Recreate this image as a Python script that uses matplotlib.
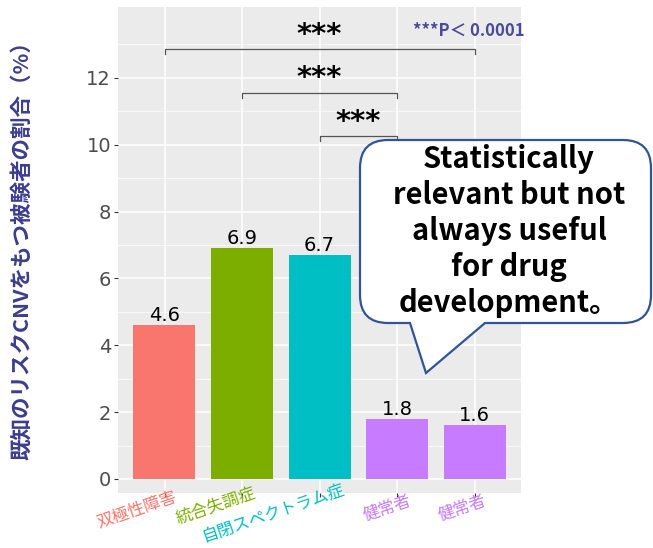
import numpy as np
import matplotlib
matplotlib.use('Agg')
import matplotlib.pyplot as plt
import matplotlib.transforms as mtransforms
from matplotlib.path import Path
from matplotlib.patches import PathPatch

# データ
groups = ['双極性障害', '統合失調症', '自閉スペクトラム症', '健常者', '健常者']
values = [4.6, 6.9, 6.7, 1.8, 1.6]
colors = ['#F8766D', '#7CAE00', '#00BFC4', '#C77CFF', '#C77CFF']
yticks = [0, 2, 4, 6, 8, 10, 12]
pairs = [(0, 4), (1, 3), (2, 3)]
pair_heights = [12.85, 11.55, 10.25]
pair_marks = ['***', '***', '***']
p_note = '***P＜ 0.0001'
ylabel = '既知のリスクCNVをもつ被験者の割合（%）'
callout = 'Statistically\nrelevant but not\nalways useful\nfor drug\ndevelopment。'

jp = ['Noto Sans CJK JP', 'DejaVu Sans']
W, H = 653, 548

fig = plt.figure(figsize=(W / 100, H / 100), dpi=100)
ax = fig.add_axes([118 / W, 55 / H, 403 / W, 486 / H])

x = np.arange(1, len(values) + 1)
ax.bar(x, values, width=0.8, color=colors, zorder=2)

ax.set_xlim(0.4, 5.6)
ax.set_ylim(-0.42, 14.12)
ax.set_facecolor('#EBEBEB')
for s in ax.spines.values():
    s.set_visible(False)

# グリッド
ax.set_yticks(yticks)
ax.set_yticks(np.arange(1, 14, 2), minor=True)
ax.set_xticks(x)
ax.set_xticklabels([''] * len(x))
ax.grid(which='major', color='white', lw=1.1, zorder=0)
ax.grid(which='minor', axis='y', color='white', lw=0.5, zorder=0)
ax.set_axisbelow(True)
ax.tick_params(axis='y', which='major', length=3, width=0.8, color='#333333',
               labelsize=14, labelcolor='#4D4D4D', pad=2)
ax.tick_params(axis='x', which='major', length=3, width=0.8, color='#333333')
ax.tick_params(which='minor', length=0)

# x軸ラベル(回転)
offsets = [(13, -8), (15, -3), (26, 0), (15, -12), (13, -12)]
base = mtransforms.blended_transform_factory(ax.transData, ax.transAxes)
for xi, g, c, (dx, dy) in zip(x, groups, colors, offsets):
    tr = base + mtransforms.ScaledTranslation(dx / 100, dy / 100, fig.dpi_scale_trans)
    ax.text(xi, 0, g, transform=tr, rotation=19, rotation_mode='anchor',
            ha='right', va='baseline', fontsize=12, color=c, family=jp, clip_on=False)

# 値ラベル
for xi, v in zip(x, values):
    ax.text(xi, v + 0.12, f'{v}', ha='center', va='baseline', fontsize=14, color='black')

# 有意差ブラケット
for (i, j), h, m in zip(pairs, pair_heights, pair_marks):
    x1, x2 = x[i], x[j]
    ax.plot([x1, x1, x2, x2], [h - 0.15, h, h, h - 0.15], color='#555555', lw=0.9,
            zorder=3, clip_on=False)
    ax.text((x1 + x2) / 2, h + 0.2, m, ha='center', va='baseline', fontsize=21,
            fontweight='bold', color='black')

fig.text(22 / W, 1 - 245 / H, ylabel, rotation=90, ha='center', va='center',
         fontsize=15.5, fontweight='bold', color='#3D3D8F', family=jp)
fig.text(469 / W, 1 - 31 / H, p_note, ha='center', va='center', fontsize=12,
         fontweight='bold', color='#4B4B9B', family=jp)

# 吹き出し
ov = fig.add_axes([0, 0, 1, 1])
ov.set_xlim(0, W)
ov.set_ylim(H, 0)
ov.axis('off')
L, R, T, B, r = 360, 651, 140, 323, 28
xl, xr, tip = 410, 485, (426, 373)
verts = [(L + r, T), (R - r, T), (R, T), (R, T + r), (R, B - r), (R, B), (R - r, B),
         (xr, B), tip, (xl, B), (L + r, B), (L, B), (L, B - r), (L, T + r), (L, T),
         (L + r, T), (L + r, T)]
codes = [Path.MOVETO, Path.LINETO, Path.CURVE3, Path.CURVE3, Path.LINETO, Path.CURVE3,
         Path.CURVE3, Path.LINETO, Path.LINETO, Path.LINETO, Path.LINETO, Path.CURVE3,
         Path.CURVE3, Path.LINETO, Path.CURVE3, Path.CURVE3, Path.CLOSEPOLY]
ov.add_patch(PathPatch(Path(verts, codes), facecolor='white', edgecolor='#2F5597', lw=1.6))
ov.text(509, 231, callout, ha='center', va='center', fontsize=21, fontweight='bold',
        linespacing=1.25, color='black', family=jp)

fig.savefig('out.png', dpi=100)
